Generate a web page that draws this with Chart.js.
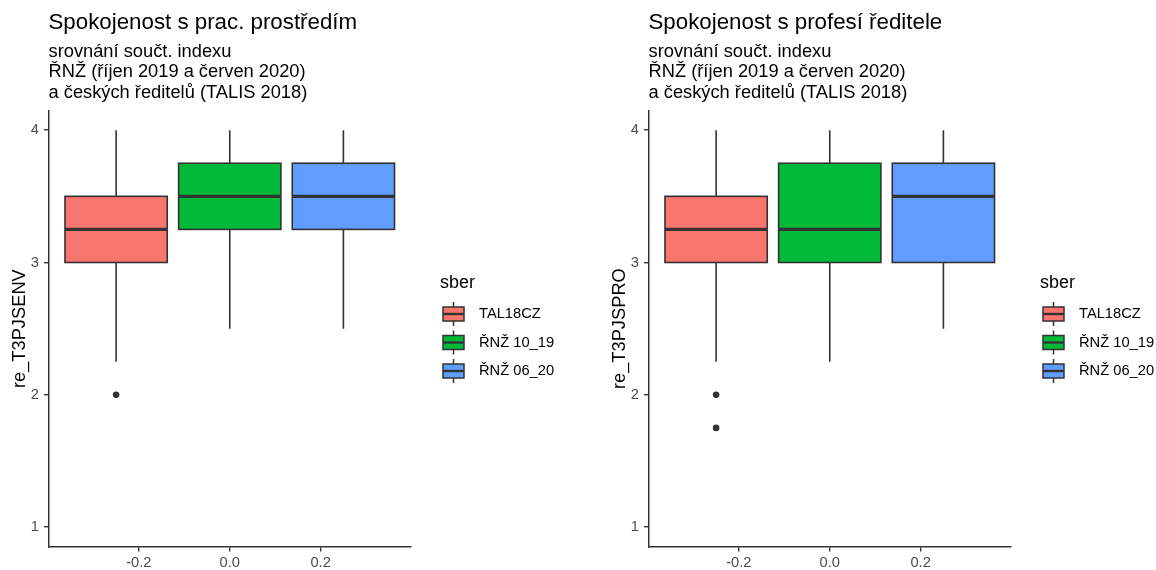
<!DOCTYPE html>
<html>
<head>
<meta charset="utf-8">
<script src="https://cdn.jsdelivr.net/npm/chart.js@4/dist/chart.umd.min.js"></script>
<style>
  html, body { margin: 0; padding: 0; background: #fff; }
  #wrap { position: relative; width: 1156px; height: 570px; }
  #leftBox { position: absolute; left: 0; top: 0; width: 600px; height: 570px; }
  #rightBox { position: absolute; left: 600px; top: 0; width: 556px; height: 570px; }
</style>
</head>
<body>
<div id="wrap">
  <div id="leftBox"><canvas id="envChart"></canvas></div>
  <div id="rightBox"><canvas id="proChart"></canvas></div>
</div>
<script>
// groups (sber)
const groups = ['TAL18CZ', 'ŘNŽ 10_19', 'ŘNŽ 06_20'];
const groupX = [-0.25, 0, 0.25];
const groupColors = ['#F8766D', '#00BA38', '#619CFF'];

// re_T3PJSENV
const envMin = [2.25, 2.5, 2.5];
const envQ1 = [3, 3.25, 3.25];
const envMed = [3.25, 3.5, 3.5];
const envQ3 = [3.5, 3.75, 3.75];
const envMax = [4, 4, 4];
const envOut = [[2], [], []];

// re_T3PJSPRO
const proMin = [2.25, 2.25, 2.5];
const proQ1 = [3, 3, 3];
const proMed = [3.25, 3.25, 3.5];
const proQ3 = [3.5, 3.75, 3.75];
const proMax = [4, 4, 4];
const proOut = [[2, 1.75], [], []];

// ticks
const yTicks = [1, 2, 3, 4];
const xTicks = [-0.2, 0, 0.2];
const xTickLabels = ['-0.2', '0.0', '0.2'];

const subtitleLines = ['srovnání součt. indexu', 'ŘNŽ (říjen 2019 a červen 2020)', 'a českých ředitelů (TALIS 2018)'];

const FONT = "'Liberation Sans', Arial, sans-serif";
const INK = '#333333';
const BOX_WIDTH = 0.225;

const boxPlugin = {
    id: 'boxes',
    beforeDatasetsDraw(chart) {
        const st = chart.options.plugins.boxes;
        const xs = chart.scales.x, ys = chart.scales.y;
        const ctx = chart.ctx;
        ctx.save();
        for (let i = 0; i < groups.length; i++) {
            const cx = xs.getPixelForValue(groupX[i]);
            const x0 = xs.getPixelForValue(groupX[i] - BOX_WIDTH / 2);
            const x1 = xs.getPixelForValue(groupX[i] + BOX_WIDTH / 2);
            const yMin = ys.getPixelForValue(st.min[i]);
            const yQ1 = ys.getPixelForValue(st.q1[i]);
            const yMed = ys.getPixelForValue(st.med[i]);
            const yQ3 = ys.getPixelForValue(st.q3[i]);
            const yMax = ys.getPixelForValue(st.max[i]);
            ctx.strokeStyle = INK;
            ctx.lineWidth = 1.6;
            ctx.beginPath();
            ctx.moveTo(cx, yMax); ctx.lineTo(cx, yQ3);
            ctx.moveTo(cx, yQ1); ctx.lineTo(cx, yMin);
            ctx.stroke();
            ctx.fillStyle = groupColors[i];
            ctx.fillRect(x0, yQ3, x1 - x0, yQ1 - yQ3);
            ctx.strokeRect(x0, yQ3, x1 - x0, yQ1 - yQ3);
            ctx.lineWidth = 3.2;
            ctx.beginPath();
            ctx.moveTo(x0, yMed); ctx.lineTo(x1, yMed);
            ctx.stroke();
        }
        ctx.restore();
    },
    afterDraw(chart) {
        // legend "sber"
        const ctx = chart.ctx;
        const lx = chart.chartArea.right + 29;
        ctx.save();
        ctx.fillStyle = '#000';
        ctx.textBaseline = 'middle';
        ctx.textAlign = 'left';
        ctx.font = '18px ' + FONT;
        ctx.fillText('sber', lx, 283);
        ctx.font = '14.7px ' + FONT;
        for (let i = 0; i < groups.length; i++) {
            const cy = 314 + i * 28.5;
            const kx = lx + 3, kw = 21;
            ctx.strokeStyle = INK;
            ctx.lineWidth = 1.5;
            ctx.beginPath();
            ctx.moveTo(kx + kw / 2, cy - 12); ctx.lineTo(kx + kw / 2, cy + 12);
            ctx.stroke();
            ctx.fillStyle = groupColors[i];
            ctx.fillRect(kx, cy - 7, kw, 14);
            ctx.strokeRect(kx, cy - 7, kw, 14);
            ctx.lineWidth = 2.4;
            ctx.beginPath();
            ctx.moveTo(kx, cy); ctx.lineTo(kx + kw, cy);
            ctx.stroke();
            ctx.fillStyle = '#000';
            ctx.fillText(groups[i], lx + 39, cy);
        }
        ctx.restore();
    }
};

function outlierPoints(out) {
    const pts = [];
    out.forEach((vals, i) => vals.forEach(v => pts.push({ x: groupX[i], y: v })));
    return pts;
}

function makeChart(id, title, yTitle, stats, padRight) {
    return new Chart(document.getElementById(id), {
        type: 'scatter',
        data: {
            datasets: [{
                data: outlierPoints(stats.out),
                pointRadius: 3.3,
                pointBackgroundColor: INK,
                pointBorderWidth: 0
            }]
        },
        plugins: [boxPlugin],
        options: {
            responsive: true,
            maintainAspectRatio: false,
            animation: false,
            layout: { padding: { left: 0, right: padRight, top: 0, bottom: 0 } },
            plugins: {
                legend: { display: false },
                tooltip: { enabled: false },
                boxes: stats,
                title: {
                    display: true,
                    text: title,
                    align: 'start',
                    fullSize: false,
                    color: '#000',
                    font: { family: FONT, size: 22.3, weight: 'normal', lineHeight: 1.2 },
                    padding: { top: 9.5, bottom: 4.5 }
                },
                subtitle: {
                    display: true,
                    text: subtitleLines,
                    align: 'start',
                    fullSize: false,
                    color: '#000',
                    font: { family: FONT, size: 18.3, weight: 'normal', lineHeight: 1.13 },
                    padding: { top: 0.5, bottom: 7 }
                }
            },
            scales: {
                x: {
                    type: 'linear',
                    min: -0.39875,
                    max: 0.39875,
                    afterBuildTicks: s => { s.ticks = xTicks.map(v => ({ value: v })); },
                    afterFit: s => { s.height = 23; },
                    ticks: {
                        color: '#4D4D4D',
                        font: { family: FONT, size: 14.7 },
                        padding: 3,
                        callback: (v) => xTickLabels[xTicks.indexOf(v)]
                    },
                    grid: { drawOnChartArea: false, tickLength: 4.5, color: INK, lineWidth: 1.4 },
                    border: { color: INK, width: 1.5 }
                },
                y: {
                    type: 'linear',
                    min: 0.85,
                    max: 4.15,
                    afterBuildTicks: s => { s.ticks = yTicks.map(v => ({ value: v })); },
                    afterFit: s => { s.width = 48.5; },
                    ticks: {
                        color: '#4D4D4D',
                        font: { family: FONT, size: 14.7 },
                        padding: 5,
                        callback: v => String(v)
                    },
                    grid: { drawOnChartArea: false, tickLength: 4.5, color: INK, lineWidth: 1.4 },
                    border: { color: INK, width: 1.5 },
                    title: {
                        display: true,
                        text: yTitle,
                        color: '#000',
                        font: { family: FONT, size: 18.3 },
                        padding: { top: 9, bottom: 0 }
                    }
                }
            }
        }
    });
}

makeChart('envChart', 'Spokojenost s prac. prostředím', 're_T3PJSENV',
    { min: envMin, q1: envQ1, med: envMed, q3: envQ3, max: envMax, out: envOut }, 189);
makeChart('proChart', 'Spokojenost s profesí ředitele', 're_T3PJSPRO',
    { min: proMin, q1: proQ1, med: proMed, q3: proQ3, max: proMax, out: proOut }, 145);
</script>
</body>
</html>
